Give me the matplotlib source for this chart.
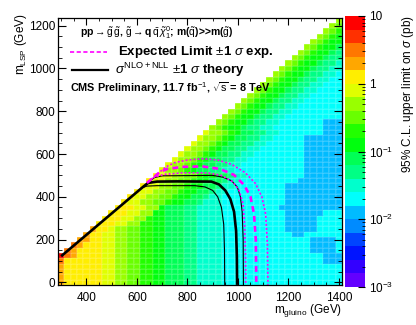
import colorsys
import numpy as np
import matplotlib
matplotlib.use("Agg")
import matplotlib.pyplot as plt
from matplotlib.colors import ListedColormap, LogNorm
from matplotlib.ticker import MultipleLocator

plt.rcParams['font.family'] = ['Liberation Sans', 'DejaVu Sans']
plt.rcParams['mathtext.fontset'] = 'custom'
plt.rcParams['mathtext.rm'] = 'Liberation Sans'
plt.rcParams['mathtext.it'] = 'Liberation Sans:italic'
plt.rcParams['mathtext.bf'] = 'Liberation Sans:bold'

# bin centres (GeV)
mgluino = np.arange(300, 1401, 25)
mlsp = np.arange(0, 1226, 25)

# colour level of each cell (0 = 1e-3 pb ... j = 10 pb, 5 levels per decade)
# one string per m_LSP row, cells run up to m_gluino = 1400
limit_rows = [
    "gffffffeeddccbbaa999887777" + "6" * 19,                # 0
    "gffffffeeddccbbaa999887777" + "6" * 19,
    "gffffffeeddccbbaa999887777" + "6" * 19,
    "gffffffeeddccbbaa999887777" + "6" * 19,
    "hffffffeeddccbbaa999887777" + "6" * 16 + "555",
    "jhgffffeeddccbbaa999887777" + "6" * 16 + "555",        # 125
    "hgffffeeddccbbaa999887777" + "6" * 14 + "5555" + "6",
    "hgfffeeddccbbaa999887777" + "6" * 14 + "5555" + "6",
    "ggffeeddccbbaa999887777" + "6" * 14 + "5555" + "6",
    "gffeeddccbbaa999887777" + "6" * 11 + "55" + "6" * 6,
    "gffeddccbbaa999887777" + "6" * 10 + "55555" + "6" * 4,  # 250
    "fffeeddbbaa999887777" + "6" * 10 + "55555" + "6" * 4,
    "fffeeddbaa999887777" + "6" * 10 + "55555" + "6" * 4,
    "fffeeddaa999887777" + "6" * 10 + "555555" + "6" * 3,
    "fffeedda999887777" + "6" * 9 + "5" * 10,
    "feeddccbaa998777" + "6" * 10 + "5" * 9,                 # 375
    "feeddccbaa99877" + "6" * 10 + "5" * 9,
    "feeddccbaa99877" + "6" * 9 + "5" * 9,
    "feeddccbaa99877" + "6" * 8 + "5" * 9,
    "feeddccbaa99877" + "6" * 9 + "5" * 7,
    "feeddccbaa99877" + "6" * 9 + "5" * 6,                  # 500
    "eddcba998877" + "6" * 11 + "5" * 6,
    "eddcba998877" + "6" * 10 + "5" * 6,
    "eddcba998877" + "6" * 9 + "5" * 6,
    "eddcba998877" + "6" * 8 + "5" * 6,
    "eddcba998877" + "6" * 7 + "5" * 6,                     # 625
    "eddcba998877" + "6" * 6 + "5" * 6,
    "eddcba998877" + "6" * 5 + "5" * 6,
    "eddcba998877" + "6" * 7 + "555",
    "dcbaa98877" + "6" * 8 + "555",
    "dcbaa98877" + "6" * 7 + "555",                         # 750
    "dcbaa98877" + "6" * 9,
    "dcbaa98877" + "6" * 8,
    "dcbaa98877" + "6" * 7,
    "dcbaa98877" + "6" * 6,
    "dcbaa98877" + "6" * 5,                                 # 875
    "dcbaa98877" + "6" * 4,
    "dcbaa98877" + "6" * 3,
    "dcbaa98877" + "6" * 2,
    "dcbaa98877" + "6",
    "dcbaa98877",                                           # 1000
    "dcbaa9887",
    "dcbaa988",
    "dcbaa98",
    "dcbaa9",
    "dcbaa",                                                # 1125
    "dcba",
    "dcb",
    "dc",
    "d",
]

# exclusion contours (m_gluino, m_LSP)
obs_x = [300, 625, 645, 680, 760, 895, 925, 950, 970, 985, 993, 996, 997]
obs_y = [122, 447, 465, 471, 472, 471, 458, 430, 390, 330, 240, 120, -12]
obs_up_x = [625, 650, 670, 700, 900, 940, 975, 998, 1010, 1017, 1021, 1022]
obs_up_y = [447, 473, 490, 498, 500, 492, 475, 445, 400, 330, 200, -12]
obs_dn_x = [620, 640, 680, 830, 870, 900, 920, 935, 944, 947, 948]
obs_dn_y = [442, 450, 452, 452, 446, 430, 400, 350, 270, 150, -12]
exp_x = [640, 690, 720, 780, 860, 930, 985, 1025, 1050, 1064, 1071, 1073]
exp_y = [465, 515, 530, 540, 542, 530, 502, 455, 400, 320, 200, -12]
exp_up_x = [645, 715, 750, 800, 860, 920, 975, 1030, 1070, 1095, 1110, 1117, 1119]
exp_up_y = [470, 540, 560, 572, 578, 572, 552, 512, 462, 400, 320, 180, -12]
exp_dn_x = [640, 670, 710, 780, 880, 935, 980, 1005, 1020, 1027, 1030, 1031]
exp_dn_y = [465, 493, 505, 512, 512, 500, 470, 430, 370, 270, 130, -12]

# ROOT "pretty" palette with 20 contour levels
hues = [280 - 5.6 * (int((j + 0.99) * 2.5) + 1) for j in range(20)]
cmap = ListedColormap([colorsys.hls_to_rgb(h / 360.0, 0.5, 1.0) for h in hues])
cmap.set_bad((1, 1, 1, 0))
lev_chars = "0123456789abcdefghij"

z = np.full((len(mlsp), len(mgluino)), np.nan)
for r, row in enumerate(limit_rows):
    start = len(mgluino) - len(row)
    for j, ch in enumerate(row):
        z[r, start + j] = 10 ** (-3 + 0.2 * (lev_chars.index(ch) + 0.5))
z = np.ma.masked_invalid(z)

xedges = np.append(mgluino - 12.5, mgluino[-1] + 12.5)
yedges = np.append(mlsp - 12.5, mlsp[-1] + 12.5)

fig = plt.figure(figsize=(4.16, 3.25), dpi=100)
ax = fig.add_axes([58 / 416, 40 / 325, 284 / 416, 267.3 / 325])
mesh = ax.pcolormesh(xedges, yedges, z, cmap=cmap, norm=LogNorm(1e-3, 10),
                     edgecolors=(1, 1, 1, 0.1), linewidth=0.3)

ax.plot(obs_x, obs_y, color='black', lw=1.9, solid_capstyle='butt')
ax.plot(obs_up_x, obs_up_y, color='black', lw=0.8)
ax.plot(obs_dn_x, obs_dn_y, color='black', lw=0.8)
ax.plot(exp_x, exp_y, color='#ff00ff', lw=1.9, dashes=(2.2, 1.6))
ax.plot(exp_up_x, exp_up_y, color='#ff00ff', lw=1.2, dashes=(1.2, 1.2))
ax.plot(exp_dn_x, exp_dn_y, color='#ff00ff', lw=1.2, dashes=(1.2, 1.2))

ax.set_xlim(287.5, 1412.5)
ax.set_ylim(-12.5, 1237.5)
ax.xaxis.set_major_locator(MultipleLocator(200))
ax.xaxis.set_minor_locator(MultipleLocator(50))
ax.yaxis.set_major_locator(MultipleLocator(200))
ax.yaxis.set_minor_locator(MultipleLocator(50))
ax.set_xticks([400, 600, 800, 1000, 1200, 1400])
ax.tick_params(which='both', direction='in', top=True, right=True, labelsize=8.5)
ax.tick_params(axis='x', which='major', length=5, pad=5)
ax.tick_params(axis='x', which='minor', length=2.5)
ax.tick_params(axis='y', which='major', length=6, pad=2)
ax.tick_params(axis='y', which='minor', length=3)
for s in ax.spines.values():
    s.set_linewidth(0.9)

# legend block
ax.text(0.077, 0.943, r"pp$\rightarrow\tilde{\rm g}\,\tilde{\rm g}$, $\tilde{\rm g}\rightarrow$q$\,\bar{\rm q}\,\tilde{\chi}^{0}_{1}$; m($\tilde{\rm q}$)>>m($\tilde{\rm g}$)",
        transform=ax.transAxes, fontsize=7.5, fontweight='bold', va='center')
ax.plot([0.042, 0.173], [0.872, 0.872], transform=ax.transAxes, color='#ff00ff',
        lw=1.2, dashes=(2.5, 1.5))
ax.text(0.211, 0.872, r"Expected Limit $\pm$1 $\sigma$ exp.", transform=ax.transAxes,
        fontsize=9.5, fontweight='bold', va='center')
ax.plot([0.049, 0.176], [0.804, 0.804], transform=ax.transAxes, color='black', lw=1.6)
ax.text(0.2, 0.806, r"$\sigma^{\rm NLO+NLL}$ $\pm$1 $\sigma$ theory", transform=ax.transAxes,
        fontsize=9.5, fontweight='bold', va='center')
ax.text(0.042, 0.737, r"CMS Preliminary, 11.7 fb$^{-1}$, $\sqrt{\rm s}$ = 8 TeV",
        transform=ax.transAxes, fontsize=7.8, fontweight='bold', va='center')

fig.text(342 / 416, 0.036, r"m$_{\rm gluino}$ (GeV)", ha='right', va='baseline', fontsize=8.5)
fig.text(21 / 416, 0.96, r"m$_{\rm LSP}$ (GeV)", ha='center', va='top', rotation=90, fontsize=8.5)

cax = fig.add_axes([345 / 416, 38 / 325, 20 / 416, 271 / 325])
cb = fig.colorbar(mesh, cax=cax)
cb.outline.set_visible(False)
cb.set_ticks([1e-3, 1e-2, 1e-1, 1, 10])
cb.set_ticklabels([r"10$^{-3}$", r"10$^{-2}$", r"10$^{-1}$", "1", "10"])
cax.tick_params(which='both', direction='in', labelsize=8.5, pad=3)
cax.tick_params(which='major', length=5)
cax.tick_params(which='minor', length=2.5)
fig.text(408 / 416, (325 - 15) / 325, r"95% C.L. upper limit on $\sigma$ (pb)",
         ha='center', va='top', rotation=90, fontsize=8.5)

fig.savefig("out.png", dpi=100)
